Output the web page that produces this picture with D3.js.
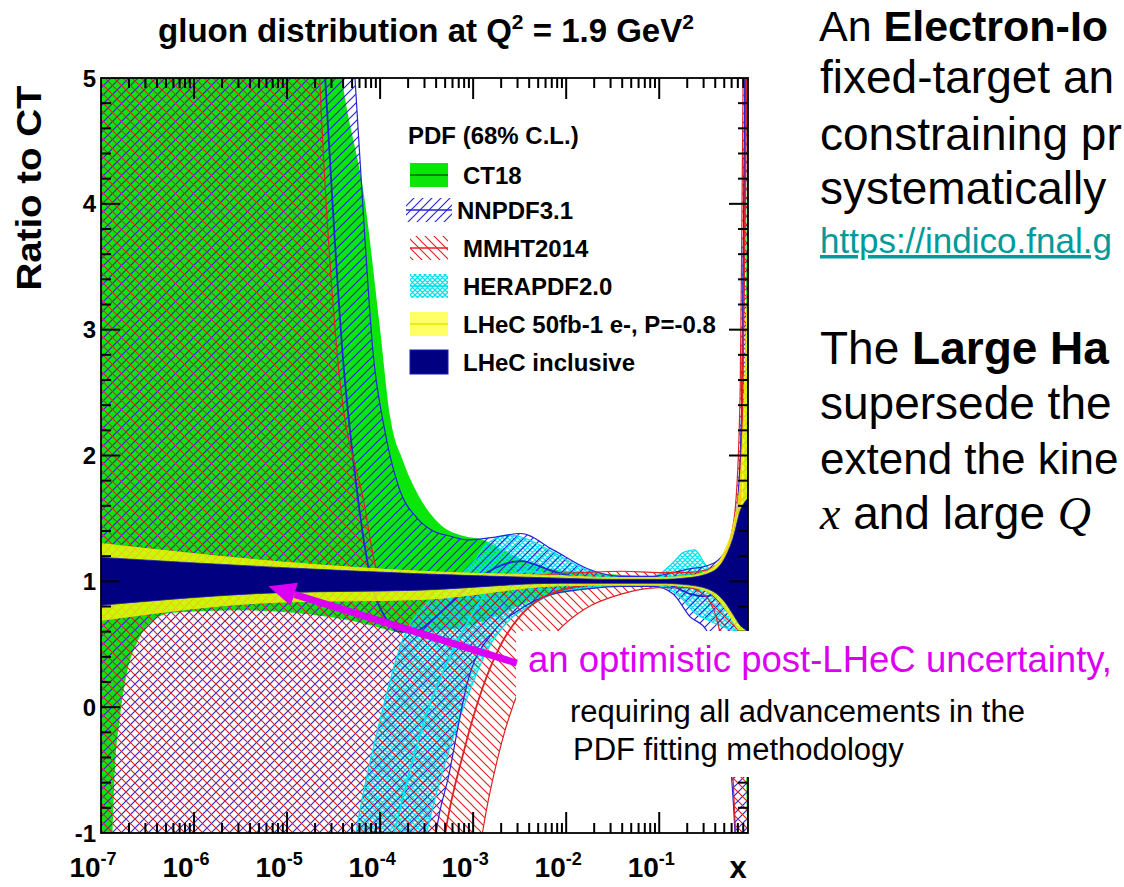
<!DOCTYPE html>
<html>
<head>
<meta charset="utf-8">
<script src="https://cdn.jsdelivr.net/npm/d3@7"></script>
<style>
  body { margin: 0; background: #fff; overflow: hidden; }
  svg { display: block; }
  text { font-family: "Liberation Sans", Arial, Helvetica, sans-serif; }
</style>
</head>
<body>
<svg id="chart" width="1124" height="887"></svg>
<script>
// ---- values: x as log10(x), y as ratio to CT18 ----

// CT18 (green band)
const ct18X  = [-7, -6.9, -6.85, -6.8, -6.72, -6.62, -6.47, -6.23, -5.5, -4.8, -4.41, -4.16, -4.0, -3.89, -3.75, -3.6, -3.35, -3.1, -2.9, -2.68, -2.4, -2.1, -1.77, -1.4, -1.0, -0.7, -0.42, -0.3, -0.2, -0.15, -0.1, -0.08, -0.06, -0.046];
const ct18Up = [9, 9, 9, 9, 9, 9, 9, 9, 9, 8, 5.0, 4.0, 3.0, 2.3, 1.95, 1.7, 1.45, 1.36, 1.33, 1.25, 1.15, 1.09, 1.07, 1.05, 1.04, 1.06, 1.1, 1.18, 1.3, 1.42, 1.65, 2.4, 4.0, 6.0];
const ct18Lo = [-3, -1.5, -0.48, -0.1, 0.28, 0.5, 0.67, 0.75, 0.77, 0.74, 0.7, 0.66, 0.63, 0.61, 0.59, 0.59, 0.61, 0.64, 0.68, 0.75, 0.84, 0.9, 0.94, 0.96, 0.96, 0.95, 0.9, 0.84, 0.76, 0.68, 0.45, 0.1, -0.8, -1.5];

// NNPDF3.1 (blue hatch)
const nnX   = [-7, -4.8, -4.59, -4.4, -4.27, -4.17, -4.08, -3.95, -3.8, -3.6, -3.43, -3.25, -3.06, -2.78, -2.49, -2.14, -1.77, -1.42, -1.06, -0.85, -0.67, -0.5, -0.35, -0.2, -0.15, -0.11, -0.08, -0.046];
const nnUp  = [9, 9, 8, 6.5, 5.0, 3.8, 2.85, 2.2, 1.75, 1.5, 1.4, 1.36, 1.33, 1.35, 1.38, 1.25, 1.1, 1.04, 1.04, 1.07, 1.1, 1.12, 1.18, 1.4, 1.7, 2.5, 5, 8];
const nnMid = [9, 8, 5.0, 2.78, 1.85, 1.3, 0.95, 0.72, 0.6, 0.61, 0.7, 0.82, 0.95, 1.1, 1.16, 1.08, 1.01, 0.99, 0.99, 0.96, 0.9, 0.88, 0.95, 1.2, 1.5, 2.4, 4.5, 7];
const nnLo  = [-5, -5, -5, -5, -5, -5, -5, -5, -5, -3, -1.2, -0.5, 0.2, 0.6, 0.78, 0.9, 0.94, 0.96, 0.96, 0.9, 0.72, 0.62, 0.3, -0.8, -1.5, -2, -3, -4];

// MMHT2014 (red hatch)
const mmX   = [-7, -4.8, -4.65, -4.46, -4.18, -4.0, -3.6, -3.3, -3.1, -2.9, -2.7, -2.5, -2.3, -2.1, -1.8, -1.4, -1.0, -0.7, -0.5, -0.35, -0.25, -0.18, -0.13, -0.11, -0.08, -0.046];
const mmUp  = [9, 8, 5.0, 2.8, 1.65, 1.03, 0.98, 0.99, 1.0, 1.01, 1.03, 1.04, 1.05, 1.06, 1.07, 1.08, 1.07, 1.07, 1.09, 1.15, 1.3, 1.6, 2.5, 4.0, 6.5, 9];
const mmMid = [-4, -4, -4, -4, -4, -4, -3, -1.0, -0.35, 0.15, 0.5, 0.72, 0.85, 0.92, 0.97, 1.0, 1.0, 1.0, 1.0, 1.03, 1.1, 1.25, 1.6, 2.2, 3.8, 6];
const mmLo  = [-6, -6, -6, -6, -6, -6, -6, -4, -2.2, -1.0, -0.3, 0.15, 0.42, 0.6, 0.78, 0.9, 0.95, 0.95, 0.88, 0.6, 0.0, -1.0, -2, -3, -4, -5];

// HERAPDF2.0 (cyan cross-hatch)
const hpX   = [-4.45, -4.26, -4.0, -3.75, -3.5, -3.22, -3.0, -2.85, -2.6, -2.4, -2.14, -1.77, -1.42, -1.06, -0.85, -0.74, -0.62, -0.5, -0.38, -0.25, -0.15, -0.046];
const hpUp  = [-2, -1.0, -0.1, 0.55, 0.82, 1.0, 1.15, 1.3, 1.37, 1.33, 1.23, 1.09, 1.04, 1.04, 1.15, 1.23, 1.25, 1.13, 1.05, 1.06, 1.12, 1.25];
const hpMid = [-3.5, -2.5, -1.5, -0.7, -0.05, 0.45, 0.75, 0.92, 1.05, 1.08, 1.05, 1.02, 1.0, 1.0, 1.03, 1.05, 1.03, 0.95, 0.88, 0.85, 0.87, 0.9];
const hpLo  = [-5, -4, -3, -2, -1.0, -0.25, 0.2, 0.45, 0.7, 0.8, 0.9, 0.95, 0.97, 0.97, 0.92, 0.85, 0.75, 0.7, 0.66, 0.62, 0.6, 0.55];

// LHeC projections (yellow and navy)
const lhX    = [-7, -5.08, -3.57, -2.06, -1.5, -1.0, -0.67, -0.42, -0.3, -0.2, -0.13, -0.08, -0.046];
const fb50Up = [1.30, 1.155, 1.08, 1.045, 1.03, 1.03, 1.045, 1.11, 1.24, 1.46, 1.8, 2.6, 3.5];
const fb50Lo = [0.69, 0.835, 0.855, 0.965, 0.97, 0.97, 0.955, 0.89, 0.79, 0.67, 0.58, 0.45, 0.3];
const inclUp = [1.19, 1.11, 1.06, 1.025, 1.015, 1.015, 1.03, 1.08, 1.18, 1.36, 1.56, 1.63, 1.66];
const inclLo = [0.81, 0.91, 0.93, 0.985, 0.985, 0.985, 0.97, 0.92, 0.84, 0.73, 0.65, 0.62, 0.6];

// axis ticks and labels
const xDecades = [-7, -6, -5, -4, -3, -2, -1];
const yLabels = [-1, 0, 1, 2, 3, 4, 5];
const legendLabels = ['CT18', 'NNPDF3.1', 'MMHT2014', 'HERAPDF2.0', 'LHeC 50fb-1 e-, P=-0.8', 'LHeC inclusive'];

// arrow of the annotation, in data units (log10 x, ratio)
const arrowTip = [-5.2, 0.96];
const arrowTail = [-2.53, 0.35];

// ---- colours ----
const green = '#0ae60a', blue = '#2424d8', red = '#e02222', cyan = '#00e2ee', navy = '#000080', magenta = '#dc00f2';

const svg = d3.select('#chart');
const plot = { left: 101, right: 748, top: 78, bottom: 833 };

const x = d3.scaleLog().domain([1e-7, 0.9]).range([plot.left, plot.right]);
const y = d3.scaleLinear().domain([-1, 5]).range([plot.bottom, plot.top]);
const X = lx => x(Math.pow(10, lx));

// patterns for the hatched bands
const defs = svg.append('defs');
function hatch(id, color, dirs, s, w) {
  const p = defs.append('pattern').attr('id', id)
    .attr('patternUnits', 'userSpaceOnUse').attr('width', s).attr('height', s);
  let d = '';
  if (dirs.includes('/')) d += `M-1,1 L1,-1 M0,${s} L${s},0 M${s - 1},${s + 1} L${s + 1},${s - 1} `;
  if (dirs.includes('\\')) d += `M-1,${s - 1} L1,${s + 1} M0,0 L${s},${s} M${s - 1},-1 L${s + 1},1`;
  p.append('path').attr('d', d).attr('stroke', color).attr('stroke-width', w).attr('fill', 'none');
}
hatch('nnHatch', blue, '/', 9, 1.15);
hatch('mmHatch', red, '\\', 9, 1.15);
hatch('hpHatch', cyan, '/\\', 5, 1.3);

defs.append('clipPath').attr('id', 'plotClip')
  .append('rect')
  .attr('x', plot.left).attr('y', plot.top)
  .attr('width', plot.right - plot.left).attr('height', plot.bottom - plot.top);

const bands = svg.append('g').attr('clip-path', 'url(#plotClip)');

const area = d3.area()
  .x(d => X(d[0])).y0(d => y(d[2])).y1(d => y(d[1]))
  .curve(d3.curveMonotoneX);
const line = d3.line()
  .x(d => X(d[0])).y(d => y(d[1]))
  .curve(d3.curveMonotoneX);

function band(xs, up, lo, fill) {
  bands.append('path').datum(d3.zip(xs, up, lo)).attr('d', area).attr('fill', fill);
}
function curve(xs, vs, color, w) {
  bands.append('path').datum(d3.zip(xs, vs)).attr('d', line)
    .attr('fill', 'none').attr('stroke', color).attr('stroke-width', w);
}

// CT18 filled band
band(ct18X, ct18Up, ct18Lo, green);

// hatched bands
band(hpX, hpUp, hpLo, 'url(#hpHatch)');
band(nnX, nnUp, nnLo, 'url(#nnHatch)');
band(mmX, mmUp, mmLo, 'url(#mmHatch)');

// band edges and central lines
curve(hpX, hpUp, cyan, 1.2); curve(hpX, hpLo, cyan, 1.2); curve(hpX, hpMid, cyan, 1.8);
curve(nnX, nnUp, blue, 1.2); curve(nnX, nnLo, blue, 1.2); curve(nnX, nnMid, blue, 1.8);
curve(mmX, mmUp, red, 1.2); curve(mmX, mmLo, red, 1.2); curve(mmX, mmMid, red, 1.8);
curve([-7, -0.046], [1, 1], '#006400', 1.5);

// LHeC bands on top
band(lhX, fb50Up, fb50Lo, 'rgba(255,255,0,0.78)');
curve(lhX, fb50Up, '#e6e600', 1); curve(lhX, fb50Lo, '#e6e600', 1);
band(lhX, inclUp, inclLo, navy);
curve(lhX, inclUp, '#1a1ab4', 0.8); curve(lhX, inclLo, '#1a1ab4', 0.8);

// ---- ticks on all four sides, pointing inward ----
// drawn as short segments in data space through the same line generator as the curves
const xMinorLog = [];
xDecades.forEach(k => { for (let m = 2; m <= 9; m++) { const lx = k + Math.log10(m); if (lx < -0.06) xMinorLog.push(lx); } });
const yMinor = d3.range(0, 31).map(i => -1 + i * 0.2).filter(v => Math.abs(v - Math.round(v)) > 1e-6);
const perUnitY = (plot.bottom - plot.top) / 6;                    // px per unit of ratio
const perDecade = (plot.right - plot.left) / (7 + Math.log10(0.9)); // px per decade of x
const straight = d3.line().x(d => X(d[0])).y(d => y(d[1]));

function drawTick(pts) {
  bands.append('path').attr('d', straight(pts))
    .attr('fill', 'none').attr('stroke', '#000').attr('stroke-width', 2);
}
function xTicks(list, size) {
  const dv = size / perUnitY;
  list.forEach(lx => {
    drawTick([[lx, -1], [lx, -1 + dv]]);
    drawTick([[lx, 5], [lx, 5 - dv]]);
  });
}
function yTicks(list, size) {
  const dl = size / perDecade, right = Math.log10(0.9);
  list.forEach(v => {
    drawTick([[-7, v], [-7 + dl, v]]);
    drawTick([[right, v], [right - dl, v]]);
  });
}
xTicks(xMinorLog, 10);
xTicks(xDecades, 21);
yTicks(yMinor, 10);
yTicks(yLabels, 19);

// ---- frame ----
svg.append('rect')
  .attr('x', plot.left).attr('y', plot.top)
  .attr('width', plot.right - plot.left).attr('height', plot.bottom - plot.top)
  .attr('fill', 'none').attr('stroke', '#000').attr('stroke-width', 1.8);

// y tick labels
svg.append('g').selectAll('text').data(yLabels).enter().append('text')
  .attr('x', 96).attr('y', d => y(d))
  .attr('dy', '0.36em')
  .attr('text-anchor', 'end')
  .attr('font-size', 24).attr('font-weight', 'bold')
  .text(d => d);

// x tick labels 10^k
const xl = svg.append('g').selectAll('text').data(xDecades).enter().append('text')
  .attr('x', d => X(d) - 8).attr('y', 877)
  .attr('text-anchor', 'middle')
  .attr('font-size', 28).attr('font-weight', 'bold');
xl.append('tspan').text('10');
xl.append('tspan').attr('dy', -12).attr('font-size', 18).text(d => d);

svg.append('text')
  .attr('x', plot.right - 10).attr('y', 878)
  .attr('text-anchor', 'middle')
  .attr('font-size', 31).attr('font-weight', 'bold')
  .text('x');

// y axis title
svg.append('text')
  .attr('transform', 'translate(41,188) rotate(-90)')
  .attr('text-anchor', 'middle')
  .attr('font-size', 35).attr('font-weight', 'bold')
  .attr('textLength', 205).attr('lengthAdjust', 'spacingAndGlyphs')
  .text('Ratio to CT');

// chart title
const title = svg.append('text')
  .attr('x', 426).attr('y', 42)
  .attr('text-anchor', 'middle')
  .attr('font-size', 33).attr('font-weight', 'bold');
title.append('tspan').text('gluon distribution at Q');
title.append('tspan').attr('dy', -13).attr('font-size', 21).text('2');
title.append('tspan').attr('dy', 13).text(' = 1.9 GeV');
title.append('tspan').attr('dy', -13).attr('font-size', 21).text('2');

// ---- legend ----
const leg = svg.append('g');
leg.append('text').attr('x', 408).attr('y', 144)
  .attr('font-size', 24).attr('font-weight', 'bold')
  .text('PDF (68% C.L.)');

const rowY = [175, 210, 248, 286, 324, 362];
const legFill = [green, 'url(#nnHatch)', 'url(#mmHatch)', 'url(#hpHatch)', 'rgba(255,255,0,0.6)', navy];
const legLine = ['#006400', blue, red, cyan, '#e6e600', null];
const legTextX = [463, 457, 463, 463, 463, 463];
legendLabels.forEach((lab, i) => {
  const x0 = i === 1 ? 406 : 410, w = i === 1 ? 46 : 38;
  leg.append('rect').attr('x', x0).attr('y', rowY[i] - 12).attr('width', w).attr('height', 24)
    .attr('fill', legFill[i])
    .attr('stroke', i === 5 ? '#1a1ab4' : 'none');
  if (legLine[i]) {
    leg.append('line').attr('x1', x0).attr('x2', x0 + w).attr('y1', rowY[i]).attr('y2', rowY[i])
      .attr('stroke', legLine[i]).attr('stroke-width', 1.5);
  }
  leg.append('text').attr('x', legTextX[i]).attr('y', rowY[i] + 9)
    .attr('font-size', 24).attr('font-weight', 'bold')
    .text(lab);
});

// ---- annotation: white box, arrow, text ----
svg.append('rect').attr('x', 516).attr('y', 631).attr('width', 1124 - 516).attr('height', 146).attr('fill', '#fff');

const tip = [X(arrowTip[0]), y(arrowTip[1])];
const tail = [X(arrowTail[0]), y(arrowTail[1])];
const dx = tail[0] - tip[0], dy = tail[1] - tip[1], arrowLen = Math.hypot(dx, dy);
const ux = dx / arrowLen, uy = dy / arrowLen;
const headLen = 27, headW = 12;
const base = [tip[0] + ux * headLen, tip[1] + uy * headLen];
svg.append('line')
  .attr('x1', base[0]).attr('y1', base[1]).attr('x2', tail[0]).attr('y2', tail[1])
  .attr('stroke', magenta).attr('stroke-width', 7);
svg.append('path')
  .attr('d', `M${tip[0]},${tip[1]} L${base[0] - uy * headW},${base[1] + ux * headW} L${base[0] + uy * headW},${base[1] - ux * headW} Z`)
  .attr('fill', magenta);

svg.append('text').attr('x', 528).attr('y', 672)
  .attr('font-size', 36).attr('fill', magenta)
  .attr('textLength', 584).attr('lengthAdjust', 'spacingAndGlyphs')
  .text('an optimistic post-LHeC uncertainty,');
svg.append('text').attr('x', 570).attr('y', 722)
  .attr('font-size', 31).attr('fill', '#000')
  .text('requiring all advancements in the');
svg.append('text').attr('x', 573).attr('y', 760)
  .attr('font-size', 31).attr('fill', '#000')
  .text('PDF fitting methodology');

// ---- slide text on the right (cut by the slide edge in the source) ----
const side = svg.append('g').attr('font-size', 46);
const t1 = side.append('text').attr('x', 819).attr('y', 41).attr('font-size', 43);
t1.append('tspan').text('An ');
t1.append('tspan').attr('font-weight', 'bold').text('Electron-Io');
side.append('text').attr('x', 820).attr('y', 93).text('fixed-target an');
side.append('text').attr('x', 820).attr('y', 150).text('constraining pr');
side.append('text').attr('x', 820).attr('y', 204).text('systematically');
side.append('text').attr('x', 820).attr('y', 253)
  .attr('font-size', 35).attr('fill', '#009a9a')
  .attr('text-decoration', 'underline')
  .text('https://indico.fnal.g');
const t2 = side.append('text').attr('x', 820).attr('y', 364);
t2.append('tspan').text('The ');
t2.append('tspan').attr('font-weight', 'bold').text('Large Ha');
side.append('text').attr('x', 820).attr('y', 419).text('supersede the');
side.append('text').attr('x', 820).attr('y', 474).attr('font-size', 44).text('extend the kine');
const t3 = side.append('text').attr('x', 820).attr('y', 529);
t3.append('tspan').attr('font-family', '"Liberation Serif", "DejaVu Serif", serif').attr('font-style', 'italic').text('x');
t3.append('tspan').text(' and large ');
t3.append('tspan').attr('font-family', '"Liberation Serif", "DejaVu Serif", serif').attr('font-style', 'italic').text('Q');
</script>
</body>
</html>
